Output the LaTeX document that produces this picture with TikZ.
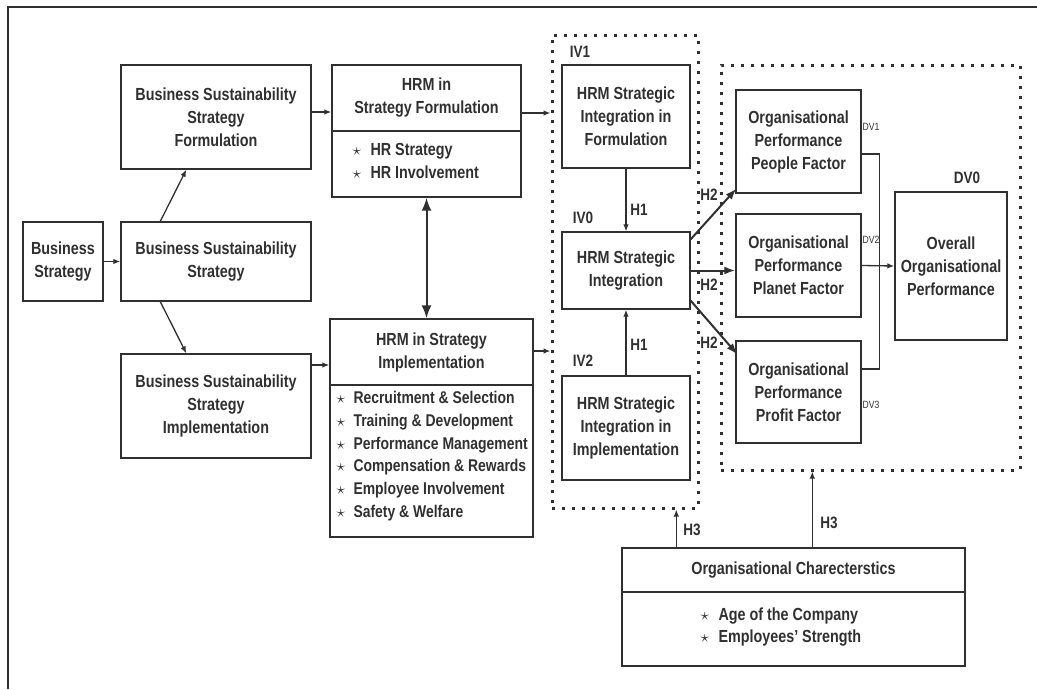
\documentclass[tikz,border=0pt]{standalone}
\usepackage{fontspec}
\setmainfont{Liberation Sans}[FakeStretch=0.82]
\usetikzlibrary{arrows.meta,calc}
\definecolor{ink}{HTML}{303030}
\begin{document}
\begin{tikzpicture}[x=1pt,y=-1pt,
  box/.style={draw=ink,line width=1.4pt,rectangle,inner sep=0pt,align=center,text=ink,font=\fontsize{17.5}{23}\selectfont\bfseries},
  txt/.style={inner sep=0pt,text=ink,font=\fontsize{17.5}{23}\selectfont\bfseries},
  dots/.style={draw=ink,line width=3pt,dash pattern=on 3pt off 7pt,rectangle,inner sep=0pt},
  con/.style={draw=ink,line width=1.3pt,-{Latex[length=7pt,width=5.5pt]}},
  thick2/.style={draw=ink,line width=2pt,-{Latex[length=11pt,width=8pt]}},
  lab/.style={text=ink,font=\fontsize{16.5}{18}\selectfont\bfseries,inner sep=0pt},
  dv/.style={text=ink,font=\fontsize{10.5}{12}\selectfont,inner sep=0pt}
]
\useasboundingbox (0,0) rectangle (1037,689);
\draw[ink,line width=1.6pt] (1037,7) -- (8,7) -- (8,689);

\newcommand{\bl}{\makebox[18pt][l]{$\star$}}
\newcommand{\bls}{\makebox[17pt][l]{$\star$}}

% left column
\node[box,minimum width=80pt,minimum height=79pt] (BS) at (63,261.5) {Business\\Strategy};
\node[box,minimum width=190pt,minimum height=104pt] (BSSF) at (216,117) {Business Sustainability\\Strategy\\Formulation};
\node[box,minimum width=190pt,minimum height=79pt] (BSS) at (216,261.5) {Business Sustainability\\Strategy};
\node[box,minimum width=190pt,minimum height=104pt] (BSSI) at (216,406) {Business Sustainability\\Strategy\\Implementation};

% HRM boxes
\node[box,minimum width=189pt,minimum height=66pt] (HRMFt) at (426.5,98) {HRM in\\Strategy Formulation};
\node[box,minimum width=189pt,minimum height=66pt] (HRMFb) at (426.5,164) {};
\node[txt,anchor=west] (HRMFl) at ($(HRMFb.west)+(21,-2)$) {\begin{tabular}{@{}l@{}}\bl HR Strategy\\\bl HR Involvement\end{tabular}};
\node[box,minimum width=203pt,minimum height=66pt] (HRMIt) at (431.5,352) {HRM in Strategy\\Implementation};
\node[box,minimum width=203pt,minimum height=152pt] (HRMIb) at (431.5,461) {};
\node[txt,anchor=west,font=\fontsize{17}{22.7}\selectfont\bfseries] (HRMIl) at ($(HRMIb.west)+(7,-5)$)
 {\begin{tabular}{@{}l@{}}\bls Recruitment \& Selection\\\bls Training \& Development\\\bls Performance Management\\\bls Compensation \& Rewards\\\bls Employee Involvement\\\bls Safety \& Welfare\end{tabular}};

% dotted groups
\node[dots,minimum width=146pt,minimum height=473pt] (IV) at (625,271.5) {};
\node[dots,minimum width=299pt,minimum height=405pt] (DV) at (870.5,267.5) {};

% IV boxes
\node[box,minimum width=128pt,minimum height=103pt] (SIF) at (626,116.5) {HRM Strategic\\Integration in\\Formulation};
\node[box,minimum width=128pt,minimum height=77pt] (SI) at (626,270.5) {HRM Strategic\\Integration};
\node[box,minimum width=128pt,minimum height=104pt] (SII) at (626,428) {HRM Strategic\\Integration in\\Implementation};

% DV boxes
\node[box,minimum width=125pt,minimum height=103pt] (OP1) at (798.5,141.5) {Organisational\\Performance\\People Factor};
\node[box,minimum width=125pt,minimum height=103pt] (OP2) at (798.5,265.5) {Organisational\\Performance\\Planet Factor};
\node[box,minimum width=125pt,minimum height=102pt] (OP3) at (798.5,392) {Organisational\\Performance\\Profit Factor};
\node[box,minimum width=112pt,minimum height=148pt] (OV) at (951,266) {Overall\\Organisational\\Performance};

% organisational characteristics
\node[box,minimum width=343pt,minimum height=44pt] (OCt) at (793.5,570) {Organisational Charecterstics};
\node[box,minimum width=343pt,minimum height=74pt] (OCb) at (793.5,629) {};
\node[txt,anchor=west] (OCl) at ($(OCb.west)+(79,-2)$) {\begin{tabular}{@{}l@{}}\bl Age of the Company\\[-1pt]\bl Employees' Strength\end{tabular}};

% labels
\node[lab] (IV1) at (580,52) {IV1};
\node[lab] (IV0) at (583,218) {IV0};
\node[lab] (IV2) at (583,361) {IV2};
\node[lab] (H1a) at (639,210) {H1};
\node[lab] (H1b) at (639,345) {H1};
\node[lab] (H2a) at (709,195) {H2};
\node[lab] (H2b) at (709,285) {H2};
\node[lab] (H2c) at (709,343) {H2};
\node[lab] (H3a) at (692,530) {H3};
\node[lab] (H3b) at (829,523) {H3};
\node[lab] (DV0) at (967,178) {DV0};
\node[dv] (DV1) at (871,127) {DV1};
\node[dv] (DV2) at (871,240) {DV2};
\node[dv] (DV3) at (871,405) {DV3};

% connectors left
\draw[con] (BS.east) -- (BSS.west);
\draw[con] ($(BSS.north west)+(40,0)$) -- ($(BSSF.south west)+(66,0)$);
\draw[con] ($(BSS.south west)+(40,0)$) -- ($(BSSI.north west)+(66,0)$);
\coordinate (a1) at ($(BSSF.east)+(0,-5)$);
\draw[con] (a1) -- (a1 -| HRMFt.west);
\coordinate (a2) at ($(BSSI.east)+(0,-41)$);
\draw[con] (a2) -- (a2 -| HRMIt.west);
\draw[draw=ink,line width=2pt,{Latex[length=13pt,width=10pt]}-{Latex[length=13pt,width=10pt]}] (HRMFb.south) -- (HRMFb.south |- HRMIt.north);
\coordinate (a3) at ($(HRMFt.east)+(0,15)$);
\draw[con] (a3) -- (a3 -| IV.west);
\coordinate (a4) at ($(HRMIt.east)+(0,-1)$);
\draw[con] (a4) -- (a4 -| IV.west);

% H1
\draw[con] (SIF.south) -- (SI.north);
\draw[con] (SII.north) -- (SI.south);

% H2
\draw[thick2] ($(SI.north east)+(0,8)$) -- ($(OP1.south west)+(1,-5)$);
\coordinate (a5) at ($(SI.east)+(0,0)$);
\draw[thick2] (a5) -- (a5 -| OP2.west);
\draw[thick2] ($(SI.south east)+(0,-9)$) -- ($(OP3.north west)+(2,14)$);

% bracket to overall
\coordinate (b1) at ($(OP1.east)+(0,12.5)$);
\coordinate (b3) at ($(OP3.east)+(0,-23)$);
\draw[ink,line width=1.3pt] (b1) -- ++(18,0) coordinate (b2) -- (b2 |- b3) -- (b3);
\draw[con] (OP2.east) -- (OV.west);

% H3
\coordinate (c1) at ($(OCt.north west)+(55,0)$);
\draw[con] (c1) -- (c1 |- IV.south);
\coordinate (c2) at ($(OCt.north west)+(191,0)$);
\draw[con] (c2) -- (c2 |- DV.south);
\end{tikzpicture}
\end{document}
